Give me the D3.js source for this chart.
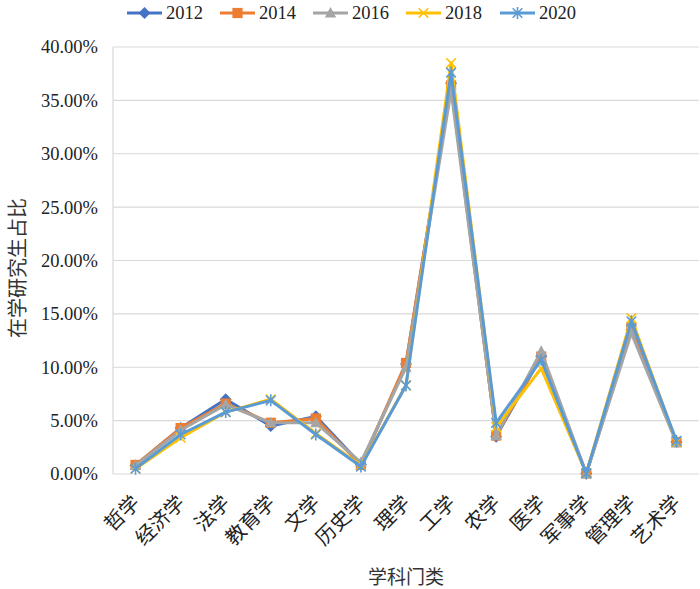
<!DOCTYPE html>
<html><head><meta charset="utf-8">
<script src="https://cdn.jsdelivr.net/npm/d3@7/dist/d3.min.js"></script>
<style>body{margin:0;background:#fff}svg{display:block}
.serif{font-family:"Liberation Serif","DejaVu Serif","Times New Roman",serif}
.cjk{font-family:"Noto Sans CJK SC",sans-serif}</style>
</head><body>
<svg id="c" width="700" height="589"></svg>
<script>
const categories = ["哲学","经济学","法学","教育学","文学","历史学","理学","工学","农学","医学","军事学","管理学","艺术学"];
const years = ["2012","2014","2016","2018","2020"];
const v2012 = [0.8,4.3,7.0,4.5,5.4,0.9,10.3,36.6,3.5,11.0,0.05,13.5,3.0];
const v2014 = [0.85,4.3,6.6,4.8,5.2,0.85,10.4,36.4,3.6,11.0,0.05,13.7,3.0];
const v2016 = [0.8,4.1,6.5,4.8,4.8,1.1,10.0,35.9,3.6,11.5,0.05,13.2,2.9];
const v2018 = [0.5,3.4,5.8,7.0,3.8,0.8,8.3,38.5,4.4,9.9,0.05,14.6,3.0];
const v2020 = [0.5,3.7,5.8,6.9,3.7,0.7,8.3,37.6,4.8,10.7,0.05,14.3,3.1];
const yTicks = [0,5,10,15,20,25,30,35,40];
const seriesValues = [v2012,v2014,v2016,v2018,v2020];
const colors = ["#4472C4","#ED7D31","#A5A5A5","#FFC000","#5B9BD5"];
const markers = ["diamond","square","triangle","x","asterisk"];

const svg = d3.select("#c");
const L=113, R=699, T=47, B=474;
const x = d3.scalePoint().domain(categories).range([L,R]).padding(0.5);
const y = d3.scaleLinear().domain([0,40]).range([B,T]);

// gridlines
svg.append("g").selectAll("line").data(yTicks).join("line")
  .attr("x1",L).attr("x2",R).attr("y1",d=>y(d)).attr("y2",d=>y(d))
  .attr("stroke","#d9d9d9").attr("stroke-width",1.2);
svg.append("line").attr("x1",L).attr("x2",L).attr("y1",T).attr("y2",B)
  .attr("stroke","#d9d9d9").attr("stroke-width",1.2);

// y axis labels
const yAxis = d3.axisLeft(y).tickValues(yTicks).tickSize(0).tickPadding(15)
  .tickFormat(d=>d3.format(".2f")(d)+"%");
const ga = svg.append("g").attr("transform",`translate(${L},0)`).call(yAxis)
  .attr("font-family",null).attr("font-size",null);
ga.select(".domain").remove();
ga.selectAll("text").attr("class","serif").style("font-size","18.5px").attr("fill","#222");

// x labels
const xAxis = d3.axisBottom(x).tickSize(0).tickPadding(0);
const gx = svg.append("g").attr("transform",`translate(0,${B})`).call(xAxis)
  .attr("font-family",null).attr("font-size",null);
gx.select(".domain").remove();
gx.selectAll("text").attr("class","cjk").style("font-size","20px").attr("fill","#222")
  .attr("text-anchor","end").attr("dy",0).attr("y",0)
  .attr("transform","translate(5,30) rotate(-45)");

// axis titles
svg.append("text").attr("class","cjk").attr("x",406).attr("y",584).attr("text-anchor","middle")
  .style("font-size","19px").attr("fill","#333").text("学科门类");
svg.append("text").attr("class","cjk").attr("transform","translate(25,268) rotate(-90)").attr("text-anchor","middle")
  .style("font-size","20px").attr("fill","#333").text("在学研究生占比");

function drawMarker(g, type, color, s){
  if(type==="diamond"){
    g.append("path").attr("d",`M0,${-s}L${s},0L0,${s}L${-s},0Z`).attr("fill",color);
  } else if(type==="square"){
    g.append("rect").attr("x",-s*0.85).attr("y",-s*0.85).attr("width",s*1.7).attr("height",s*1.7).attr("fill",color);
  } else if(type==="triangle"){
    g.append("path").attr("d",`M0,${-s}L${s*0.95},${s*0.75}L${-s*0.95},${s*0.75}Z`).attr("fill",color);
  } else if(type==="x"){
    const k=s*0.8;
    g.append("path").attr("d",`M${-k},${-k}L${k},${k}M${-k},${k}L${k},${-k}`).attr("stroke",color).attr("stroke-width",1.6);
  } else {
    const k=s*0.8;
    g.append("path").attr("d",`M${-k},${-k}L${k},${k}M${-k},${k}L${k},${-k}M0,${-s}L0,${s}`).attr("stroke",color).attr("stroke-width",1.6);
  }
}

const line = d3.line().x((d,i)=>x(categories[i])).y(d=>y(d));
seriesValues.forEach((vals,si)=>{
  const g = svg.append("g");
  g.append("path").datum(vals).attr("d",line).attr("fill","none")
    .attr("stroke",colors[si]).attr("stroke-width",3).attr("stroke-linejoin","round");
  vals.forEach((v,i)=>{
    const mg = g.append("g").attr("transform",`translate(${x(categories[i])},${y(v)})`);
    drawMarker(mg, markers[si], colors[si], 6);
  });
});

// legend
const legX = [127,220,313,406,500];
years.forEach((yr,i)=>{
  const g = svg.append("g").attr("transform",`translate(${legX[i]},13)`);
  g.append("line").attr("x1",0).attr("x2",35).attr("y1",0).attr("y2",0)
    .attr("stroke",colors[i]).attr("stroke-width",3);
  const mg = g.append("g").attr("transform","translate(17.5,0)");
  drawMarker(mg, markers[i], colors[i], 6);
  g.append("text").attr("class","serif").attr("x",39).attr("y",6)
    .style("font-size","18.5px").attr("fill","#222").text(yr);
});
</script>
</body></html>
